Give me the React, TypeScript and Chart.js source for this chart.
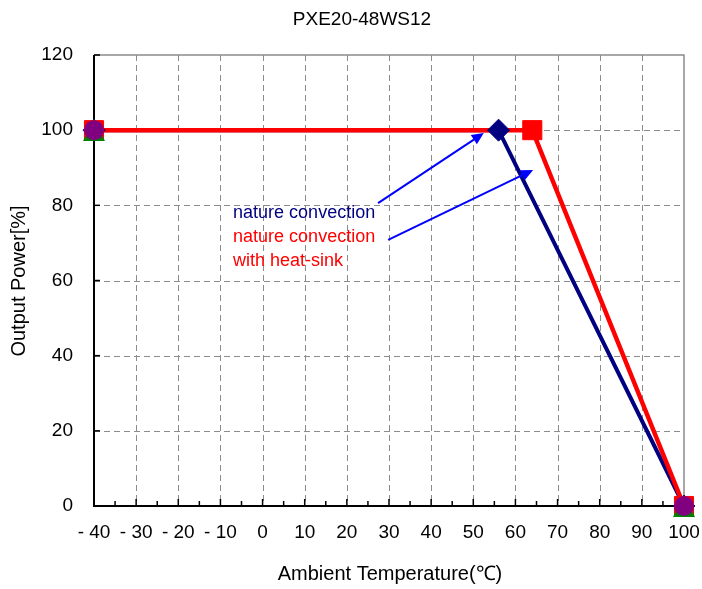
import React, { useEffect, useRef } from 'react';
import { Chart, registerables } from 'chart.js';
Chart.register(...registerables);

const chartTitle = 'PXE20-48WS12';
const xTitle = 'Ambient Temperature(℃)';
const yTitle = 'Output Power[%]';

const navyTemp = [-40, 56, 100];
const navyPower = [100, 100, 0];
const redTemp = [-40, 64, 100];
const redPower = [100, 100, 0];
const endTemp = [-40, 100];
const endPower = [100, 0];

const noteLines = ['nature convection', 'nature convection', 'with heat-sink'];
const noteColors = ['#000080', '#FF0000', '#FF0000'];
const noteX = -7;
const noteY = [76.6, 70.2, 63.85];
const arrowFrom = [[27.4, 80.6], [29.8, 70.8]];
const arrowTo = [[52.5, 99.25], [64.2, 89.4]];

const FONT = "'Liberation Sans', Arial, sans-serif";

const pts = (xs: number[], ys: number[]) => xs.map((x, i) => ({ x, y: ys[i] }));

function makeTriangle() {
  const c = document.createElement('canvas');
  c.width = 22;
  c.height = 22;
  const g = c.getContext('2d')!;
  g.fillStyle = '#008000';
  g.beginPath();
  g.moveTo(11, 0);
  g.lineTo(22, 22);
  g.lineTo(0, 22);
  g.closePath();
  g.fill();
  return c;
}

const framePlugin = {
  id: 'framePlugin',
  beforeDatasetsDraw(chart: any) {
    const { ctx, chartArea: a, scales } = chart;
    const xs = scales.x, ys = scales.y;
    ctx.save();
    ctx.strokeStyle = '#8c8c8c';
    ctx.lineWidth = 1;
    ctx.setLineDash([6, 4]);
    xs.ticks.forEach((t: any) => {
      if (t.value <= xs.min || t.value >= xs.max) return;
      const px = Math.round(xs.getPixelForValue(t.value)) + 0.5;
      ctx.beginPath();
      ctx.moveTo(px, a.top);
      ctx.lineTo(px, a.bottom);
      ctx.stroke();
    });
    ys.ticks.forEach((t: any) => {
      if (t.value <= ys.min || t.value >= ys.max) return;
      const py = Math.round(ys.getPixelForValue(t.value)) + 0.5;
      ctx.beginPath();
      ctx.moveTo(a.left, py);
      ctx.lineTo(a.right, py);
      ctx.stroke();
    });
    ctx.setLineDash([]);
    ctx.strokeStyle = '#8c8c8c';
    ctx.lineWidth = 1.5;
    ctx.beginPath();
    ctx.moveTo(a.left, a.top);
    ctx.lineTo(a.right, a.top);
    ctx.lineTo(a.right, a.bottom);
    ctx.stroke();
    ctx.strokeStyle = '#000';
    ctx.lineWidth = 2;
    ctx.beginPath();
    ctx.moveTo(a.left, a.top);
    ctx.lineTo(a.left, a.bottom);
    ctx.lineTo(a.right, a.bottom);
    ctx.stroke();
    ctx.lineWidth = 1.5;
    for (let v = xs.min; v <= xs.max; v += 5) {
      const px = xs.getPixelForValue(v);
      const major = v % 10 === 0;
      ctx.beginPath();
      ctx.moveTo(px, a.bottom);
      ctx.lineTo(px, a.bottom - (major ? 7 : 5));
      ctx.stroke();
    }
    ys.ticks.forEach((t: any) => {
      const py = ys.getPixelForValue(t.value);
      ctx.beginPath();
      ctx.moveTo(a.left, py);
      ctx.lineTo(a.left + 6, py);
      ctx.stroke();
    });
    ctx.restore();
  },
  afterDraw(chart: any) {
    const { ctx, scales } = chart;
    const xs = scales.x, ys = scales.y;
    ctx.save();
    ctx.font = `18px ${FONT}`;
    ctx.textAlign = 'left';
    ctx.textBaseline = 'alphabetic';
    noteLines.forEach((s, i) => {
      ctx.fillStyle = noteColors[i];
      ctx.fillText(s, xs.getPixelForValue(noteX), ys.getPixelForValue(noteY[i]));
    });
    ctx.strokeStyle = '#0000FF';
    ctx.fillStyle = '#0000FF';
    ctx.lineWidth = 2;
    arrowFrom.forEach((f, i) => {
      const x1 = xs.getPixelForValue(f[0]), y1 = ys.getPixelForValue(f[1]);
      const x2 = xs.getPixelForValue(arrowTo[i][0]), y2 = ys.getPixelForValue(arrowTo[i][1]);
      const ang = Math.atan2(y2 - y1, x2 - x1);
      const L = 12, W = 5.5;
      const bx = x2 - L * Math.cos(ang), by = y2 - L * Math.sin(ang);
      ctx.beginPath();
      ctx.moveTo(x1, y1);
      ctx.lineTo(bx, by);
      ctx.stroke();
      ctx.beginPath();
      ctx.moveTo(x2, y2);
      ctx.lineTo(bx + W * Math.sin(ang), by - W * Math.cos(ang));
      ctx.lineTo(bx - W * Math.sin(ang), by + W * Math.cos(ang));
      ctx.closePath();
      ctx.fill();
    });
    ctx.fillStyle = '#000';
    ctx.textAlign = 'center';
    ctx.textBaseline = 'middle';
    ctx.font = `19px ${FONT}`;
    ctx.fillText(chartTitle, 362, 20);
    ctx.font = `20px ${FONT}`;
    ctx.fillText(xTitle, 390, 574);
    ctx.translate(19, 281);
    ctx.rotate(-Math.PI / 2);
    ctx.fillText(yTitle, 0, 0);
    ctx.restore();
  },
};

export default function App() {
  const ref = useRef<HTMLCanvasElement>(null);
  useEffect(() => {
    document.body.style.margin = '0';
    const tri = makeTriangle();
    const chart = new Chart(ref.current!, {
      type: 'scatter',
      data: {
        datasets: [
          {
            label: 'end-circle',
            data: pts(endTemp, endPower),
            showLine: false,
            pointStyle: 'circle',
            pointRadius: 10,
            pointBackgroundColor: '#800080',
            pointBorderColor: '#800080',
            pointBorderWidth: 0,
            clip: false,
            order: 0,
          } as any,
          {
            label: 'end-triangle',
            data: pts(endTemp, endPower),
            showLine: false,
            pointStyle: tri,
            pointRadius: 11,
            clip: false,
            order: 1,
          } as any,
          {
            label: 'red-markers',
            data: pts(redTemp, redPower),
            showLine: false,
            pointStyle: 'rect',
            pointRadius: 13.5,
            pointBackgroundColor: '#FF0000',
            pointBorderColor: '#FF0000',
            pointBorderWidth: 1,
            clip: false,
            order: 2,
          } as any,
          {
            label: 'navy-markers',
            data: pts(navyTemp, navyPower),
            showLine: false,
            pointStyle: 'rectRot',
            pointRadius: 11,
            pointBackgroundColor: '#000080',
            pointBorderColor: '#000080',
            pointBorderWidth: 1,
            clip: false,
            order: 3,
          } as any,
          {
            label: 'nature convection with heat-sink',
            data: pts(redTemp, redPower),
            showLine: true,
            borderColor: '#FF0000',
            borderWidth: 4.5,
            pointRadius: 0,
            clip: false,
            order: 4,
          } as any,
          {
            label: 'nature convection',
            data: pts(navyTemp, navyPower),
            showLine: true,
            borderColor: '#000080',
            borderWidth: 4,
            pointRadius: 0,
            clip: false,
            order: 5,
          } as any,
        ],
      },
      options: {
        animation: false,
        responsive: false,
        devicePixelRatio: 1,
        layout: { padding: { top: 55, right: 18, left: 0, bottom: 0 } },
        plugins: { legend: { display: false }, tooltip: { enabled: false }, title: { display: false } },
        scales: {
          x: {
            type: 'linear',
            min: -40,
            max: 100,
            grid: { display: false, drawTicks: false },
            border: { display: false },
            ticks: {
              stepSize: 10,
              autoSkip: false,
              maxRotation: 0,
              padding: 15,
              color: '#000',
              font: { family: FONT, size: 19 },
              callback: (v: any) => (v < 0 ? '- ' + Math.abs(v) : String(v)),
            },
            afterFit: (s: any) => { s.height = 83; s.paddingLeft = 0; s.paddingRight = 0; },
          },
          y: {
            type: 'linear',
            min: 0,
            max: 120,
            grid: { display: false, drawTicks: false },
            border: { display: false },
            ticks: {
              stepSize: 20,
              padding: 21,
              color: '#000',
              font: { family: FONT, size: 19 },
            },
            afterFit: (s: any) => { s.width = 94; s.paddingTop = 0; s.paddingBottom = 0; },
          },
        },
      } as any,
      plugins: [framePlugin],
    });
    return () => chart.destroy();
  }, []);
  return (
    <div style={{ width: 702, height: 589 }}>
      <canvas ref={ref} width={702} height={589} />
    </div>
  );
}
